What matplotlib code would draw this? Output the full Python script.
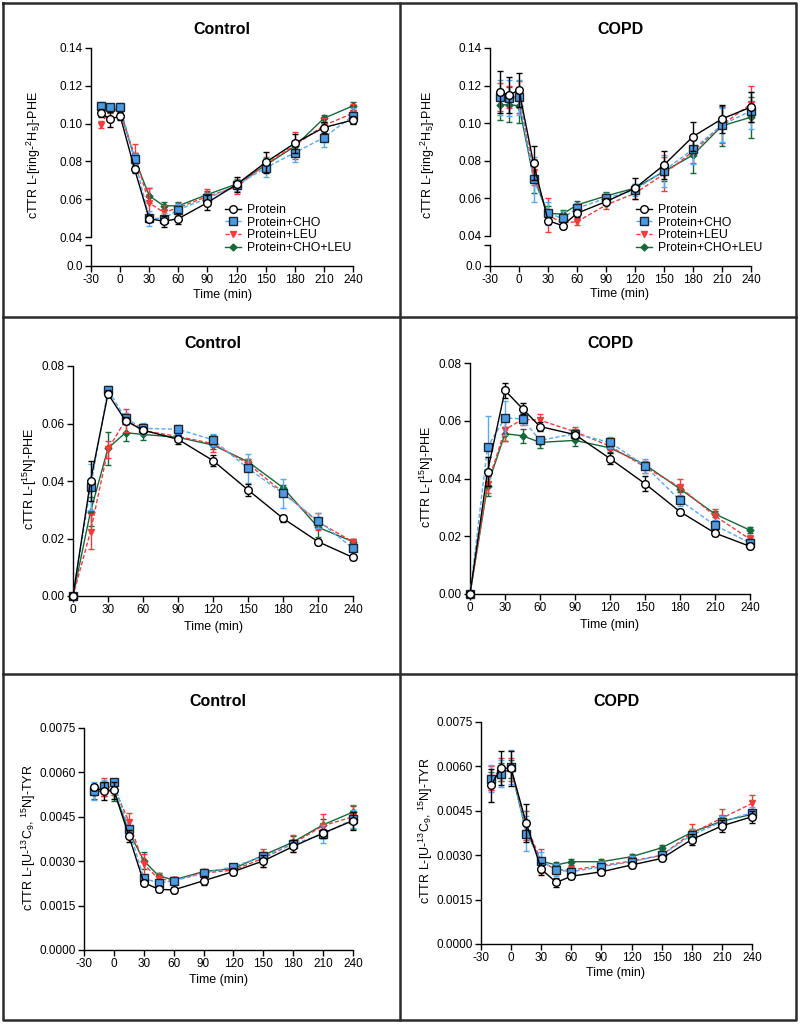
import matplotlib.pyplot as plt
from matplotlib.lines import Line2D

plt.rcParams['font.family'] = ['Liberation Sans', 'DejaVu Sans']
plt.rcParams['mathtext.fontset'] = 'custom'
plt.rcParams['mathtext.rm'] = 'Liberation Sans'
plt.rcParams['mathtext.it'] = 'Liberation Sans:italic'
plt.rcParams['mathtext.default'] = 'regular'
plt.rcParams['axes.unicode_minus'] = False

# time points (min)
time_a = [-20, -10, 0, 15, 30, 45, 60, 90, 120, 150, 180, 210, 240]
time_b = [0, 15, 30, 45, 60, 90, 120, 150, 180, 210, 240]

groups = ['Protein', 'Protein+CHO', 'Protein+LEU', 'Protein+CHO+LEU']

# --- L-[ring-2H5]-PHE, Control ---
ctrl_phe = {
    'Protein': [0.1055, 0.1023, 0.1041, 0.0758, 0.0497, 0.0483, 0.0497, 0.0582, 0.0678, 0.0795, 0.0896, 0.0979, 0.1019],
    'Protein+CHO': [0.1094, 0.1087, 0.1090, 0.0811, 0.0500, 0.0497, 0.0545, 0.0604, 0.0674, 0.0766, 0.0846, 0.0926, 0.1041],
    'Protein+LEU': [0.0995, 0.1075, 0.1065, 0.0830, 0.0580, 0.0530, 0.0555, 0.0615, 0.0665, 0.0785, 0.0885, 0.0990, 0.1055],
    'Protein+CHO+LEU': [0.1080, 0.1080, 0.1070, 0.0815, 0.0618, 0.0565, 0.0565, 0.0625, 0.0680, 0.0780, 0.0880, 0.1028, 0.1094],
}
ctrl_phe_err = {
    'Protein': [0.002, 0.004, 0.002, 0.002, 0.002, 0.003, 0.003, 0.004, 0.004, 0.0055, 0.005, 0.003, 0.002],
    'Protein+CHO': [0.002, 0.001, 0.002, 0.003, 0.004, 0.003, 0.003, 0.003, 0.003, 0.005, 0.005, 0.005, 0.004],
    'Protein+LEU': [0.002, 0.002, 0.002, 0.006, 0.008, 0.004, 0.0025, 0.004, 0.004, 0.004, 0.007, 0.004, 0.005],
    'Protein+CHO+LEU': [0.002, 0.002, 0.002, 0.003, 0.004, 0.002, 0.002, 0.002, 0.002, 0.003, 0.003, 0.002, 0.002],
}

# --- L-[ring-2H5]-PHE, COPD ---
copd_phe = {
    'Protein': [0.1166, 0.1151, 0.1176, 0.0787, 0.0482, 0.0455, 0.0521, 0.0583, 0.0654, 0.0778, 0.0929, 0.1023, 0.1086],
    'Protein+CHO': [0.1137, 0.1134, 0.1137, 0.0702, 0.0521, 0.0494, 0.0547, 0.0601, 0.0645, 0.0748, 0.0862, 0.0991, 0.1066],
    'Protein+LEU': [0.1140, 0.1140, 0.1140, 0.0740, 0.0510, 0.0470, 0.0476, 0.0565, 0.0627, 0.0730, 0.0850, 0.0990, 0.1103],
    'Protein+CHO+LEU': [0.1098, 0.1098, 0.1093, 0.0710, 0.0520, 0.0517, 0.0565, 0.0613, 0.0655, 0.0743, 0.0831, 0.0986, 0.1032],
}
copd_phe_err = {
    'Protein': [0.011, 0.0095, 0.009, 0.009, 0.002, 0.002, 0.002, 0.002, 0.0057, 0.0075, 0.0077, 0.0075, 0.008],
    'Protein+CHO': [0.0095, 0.0095, 0.0095, 0.012, 0.006, 0.004, 0.003, 0.003, 0.003, 0.0085, 0.008, 0.009, 0.0098],
    'Protein+LEU': [0.0075, 0.006, 0.0085, 0.007, 0.009, 0.002, 0.002, 0.002, 0.003, 0.009, 0.006, 0.0095, 0.0097],
    'Protein+CHO+LEU': [0.0083, 0.0093, 0.0093, 0.008, 0.004, 0.002, 0.002, 0.002, 0.002, 0.005, 0.0096, 0.0106, 0.011],
}

# --- L-[15N]-PHE, Control ---
ctrl_n15 = {
    'Protein': [0, 0.0400, 0.0703, 0.0610, 0.0577, 0.0545, 0.0471, 0.0369, 0.0270, 0.0189, 0.0134],
    'Protein+CHO': [0, 0.0378, 0.0717, 0.0618, 0.0583, 0.0580, 0.0543, 0.0444, 0.0357, 0.0262, 0.0166],
    'Protein+LEU': [0, 0.0224, 0.0510, 0.0612, 0.0575, 0.0555, 0.0530, 0.0460, 0.0360, 0.0258, 0.0188],
    'Protein+CHO+LEU': [0, 0.0293, 0.0514, 0.0568, 0.0562, 0.0552, 0.0525, 0.0467, 0.0377, 0.0239, 0.0189],
}
ctrl_n15_err = {
    'Protein': [0, 0.007, 0.0012, 0.0012, 0.001, 0.0015, 0.002, 0.002, 0.0013, 0.001, 0.0008],
    'Protein+CHO': [0, 0.008, 0.0012, 0.002, 0.002, 0.0015, 0.002, 0.005, 0.005, 0.0025, 0.0012],
    'Protein+LEU': [0, 0.0062, 0.003, 0.004, 0.001, 0.001, 0.003, 0.0015, 0.001, 0.003, 0.001],
    'Protein+CHO+LEU': [0, 0.005, 0.0058, 0.003, 0.002, 0.001, 0.0015, 0.001, 0.001, 0.0034, 0.001],
}

# --- L-[15N]-PHE, COPD ---
copd_n15 = {
    'Protein': [0, 0.0423, 0.0705, 0.0642, 0.0580, 0.0552, 0.0469, 0.0382, 0.0285, 0.0211, 0.0165],
    'Protein+CHO': [0, 0.0509, 0.0610, 0.0606, 0.0532, 0.0555, 0.0525, 0.0444, 0.0324, 0.0238, 0.0177],
    'Protein+LEU': [0, 0.0380, 0.0569, 0.0605, 0.0602, 0.0562, 0.0512, 0.0440, 0.0370, 0.0270, 0.0190],
    'Protein+CHO+LEU': [0, 0.0375, 0.0555, 0.0548, 0.0525, 0.0532, 0.0506, 0.0448, 0.0364, 0.0277, 0.0221],
}
copd_n15_err = {
    'Protein': [0, 0.005, 0.0025, 0.002, 0.0015, 0.001, 0.002, 0.0025, 0.001, 0.001, 0.001],
    'Protein+CHO': [0, 0.0106, 0.006, 0.002, 0.001, 0.001, 0.002, 0.0025, 0.002, 0.002, 0.001],
    'Protein+LEU': [0, 0.003, 0.004, 0.002, 0.002, 0.0015, 0.0015, 0.002, 0.003, 0.0025, 0.0015],
    'Protein+CHO+LEU': [0, 0.0035, 0.0025, 0.0025, 0.002, 0.002, 0.0015, 0.001, 0.001, 0.001, 0.001],
}

# --- L-[U-13C9, 15N]-TYR, Control ---
ctrl_tyr = {
    'Protein': [0.00550, 0.00536, 0.00539, 0.00386, 0.00228, 0.00205, 0.00203, 0.00234, 0.00265, 0.00301, 0.00350, 0.00395, 0.00437],
    'Protein+CHO': [0.00536, 0.00555, 0.00566, 0.00409, 0.00243, 0.00226, 0.00234, 0.00259, 0.00282, 0.00316, 0.00358, 0.00391, 0.00442],
    'Protein+LEU': [0.00535, 0.00550, 0.00550, 0.00434, 0.00290, 0.00240, 0.00235, 0.00260, 0.00270, 0.00310, 0.00360, 0.00420, 0.00450],
    'Protein+CHO+LEU': [0.00530, 0.00540, 0.00540, 0.00400, 0.00302, 0.00250, 0.00237, 0.00265, 0.00275, 0.00320, 0.00365, 0.00423, 0.00466],
}
ctrl_tyr_err = {
    'Protein': [0.0001, 0.0003, 0.0003, 0.0002, 0.0001, 0.0001, 0.0001, 0.00015, 0.00012, 0.0002, 0.0002, 0.00015, 0.0003],
    'Protein+CHO': [0.0003, 0.0002, 0.0001, 0.0001, 0.0001, 0.0001, 0.0001, 0.0001, 0.0001, 0.0001, 0.0001, 0.0003, 0.0003],
    'Protein+LEU': [0.0001, 0.0003, 0.00025, 0.0003, 0.00035, 0.0002, 0.0001, 0.00015, 0.0001, 0.0003, 0.0003, 0.0004, 0.0004],
    'Protein+CHO+LEU': [0.0002, 0.0002, 0.00035, 0.0002, 0.0003, 0.0001, 0.0001, 0.0001, 0.0001, 0.0001, 0.0002, 0.0002, 0.0002],
}

# --- L-[U-13C9, 15N]-TYR, COPD ---
copd_tyr = {
    'Protein': [0.00536, 0.00595, 0.00593, 0.00409, 0.00253, 0.00208, 0.00229, 0.00244, 0.00267, 0.00289, 0.00353, 0.00399, 0.00430],
    'Protein+CHO': [0.00559, 0.00576, 0.00598, 0.00373, 0.00280, 0.00250, 0.00244, 0.00261, 0.00278, 0.00300, 0.00368, 0.00413, 0.00444],
    'Protein+LEU': [0.00560, 0.00590, 0.00590, 0.00400, 0.00280, 0.00250, 0.00250, 0.00265, 0.00280, 0.00300, 0.00375, 0.00425, 0.00475],
    'Protein+CHO+LEU': [0.00550, 0.00580, 0.00590, 0.00380, 0.00280, 0.00267, 0.00278, 0.00278, 0.00295, 0.00325, 0.00377, 0.00415, 0.00438],
}
copd_tyr_err = {
    'Protein': [0.00056, 0.00057, 0.00058, 0.00065, 0.0002, 0.00015, 0.0001, 0.0001, 0.0001, 0.0001, 0.0002, 0.0002, 0.0002],
    'Protein+CHO': [0.00045, 0.00045, 0.00056, 0.0006, 0.0003, 0.0002, 0.0001, 0.00015, 0.0002, 0.00015, 0.0002, 0.0002, 0.0002],
    'Protein+LEU': [0.0004, 0.0004, 0.0004, 0.0005, 0.0004, 0.00015, 0.00015, 0.00015, 0.00017, 0.0001, 0.0003, 0.0003, 0.0003],
    'Protein+CHO+LEU': [0.0003, 0.0003, 0.0003, 0.0002, 0.0001, 0.0001, 0.0001, 0.0001, 0.0001, 0.0001, 0.0001, 0.0001, 0.0001],
}

xticks_a = [-30, 0, 30, 60, 90, 120, 150, 180, 210, 240]
xticks_b = [0, 30, 60, 90, 120, 150, 180, 210, 240]
phe_yticks = [0.04, 0.06, 0.08, 0.10, 0.12, 0.14]
phe_ylabels = ['0.04', '0.06', '0.08', '0.10', '0.12', '0.14']
n15_yticks = [0.0, 0.02, 0.04, 0.06, 0.08]
n15_ylabels = ['0.00', '0.02', '0.04', '0.06', '0.08']
tyr_yticks = [0.0, 0.0015, 0.003, 0.0045, 0.006, 0.0075]
tyr_ylabels = ['0.0000', '0.0015', '0.0030', '0.0045', '0.0060', '0.0075']

STYLE = {
    'Protein': dict(color='black', ls='-', marker='o', mfc='white', mec='black', ms=5.5, z=6),
    'Protein+CHO': dict(color='#5aa8f0', ls=(0, (3, 1.6)), marker='s', mfc='#4b9be3', mec='#1c2633', ms=5.5, z=5),
    'Protein+LEU': dict(color='#f23b3b', ls=(0, (3, 1.6)), marker='v', mfc='#f23b3b', mec='#f23b3b', ms=4.5, z=4),
    'Protein+CHO+LEU': dict(color='#16683a', ls='-', marker='D', mfc='#16683a', mec='#16683a', ms=3.5, z=3),
}

W, H = 800, 1024
fig = plt.figure(figsize=(W / 100, H / 100), dpi=100)


def box(x0, y0, x1, y1):
    return [x0 / W, 1 - y1 / H, (x1 - x0) / W, (y1 - y0) / H]


def style_axis(ax):
    for s in ['top', 'right']:
        ax.spines[s].set_visible(False)
    for s in ['left', 'bottom']:
        ax.spines[s].set_linewidth(1.0)
    ax.tick_params(direction='out', length=4, width=1, labelsize=8.5, pad=2)
    ax.patch.set_alpha(0)


def draw_series(ax, t, data, err):
    for g in groups:
        s = STYLE[g]
        ax.errorbar(t, data[g], yerr=err[g], color=s['color'], ls=s['ls'], lw=1.0,
                    marker=s['marker'], mfc=s['mfc'], mec=s['mec'], mew=1.0, ms=s['ms'],
                    ecolor=s['color'], elinewidth=1.0, capsize=2.5, capthick=1.0,
                    zorder=s['z'], clip_on=False)


def broken_panel(rect_top, rect_bot, data, err):
    ax = fig.add_axes(box(*rect_top))
    axb = fig.add_axes(box(*rect_bot))
    draw_series(ax, time_a, data, err)
    ax.set_xlim(-30, 240)
    ax.set_ylim(0.04, 0.14)
    ax.set_yticks(phe_yticks)
    ax.set_yticklabels(phe_ylabels)
    style_axis(ax)
    ax.spines['bottom'].set_visible(False)
    ax.tick_params(axis='x', bottom=False, labelbottom=False)
    axb.set_xlim(-30, 240)
    axb.set_ylim(0, 0.01)
    axb.set_yticks([0, 0.01])
    axb.set_yticklabels(['0.0', ''])
    axb.set_xticks(xticks_a)
    style_axis(axb)
    return ax


def simple_panel(rect, t, data, err, xlim, xticks, ylim, yticks, ylabels):
    ax = fig.add_axes(box(*rect))
    draw_series(ax, t, data, err)
    ax.set_xlim(*xlim)
    ax.set_ylim(*ylim)
    ax.set_xticks(xticks)
    ax.set_yticks(yticks)
    ax.set_yticklabels(ylabels)
    style_axis(ax)
    return ax


# panels
broken_panel((91, 48, 353, 237), (91, 245, 353, 266), ctrl_phe, ctrl_phe_err)
broken_panel((490, 48, 751, 236), (490, 245, 751, 266), copd_phe, copd_phe_err)
simple_panel((73, 366, 353, 596), time_b, ctrl_n15, ctrl_n15_err, (0, 240), xticks_b, (0, 0.08), n15_yticks, n15_ylabels)
simple_panel((470, 363, 750, 594), time_b, copd_n15, copd_n15_err, (0, 240), xticks_b, (0, 0.08), n15_yticks, n15_ylabels)
simple_panel((84, 728, 353, 950), time_a, ctrl_tyr, ctrl_tyr_err, (-30, 240), xticks_a, (0, 0.0075), tyr_yticks, tyr_ylabels)
simple_panel((481, 722, 752, 944), time_a, copd_tyr, copd_tyr_err, (-30, 240), xticks_a, (0, 0.0075), tyr_yticks, tyr_ylabels)

# titles, axis labels (pixel positions)
titles = [('Control', 222, 30), ('COPD', 620, 30), ('Control', 213, 344),
          ('COPD', 610, 344), ('Control', 218, 701), ('COPD', 616, 701)]
for txt, x, y in titles:
    fig.text(x / W, 1 - y / H, txt, ha='center', va='center', fontsize=11.5, fontweight='bold')

for x, y in [(222, 295), (620, 294), (213, 627), (610, 625), (218, 980), (616, 973)]:
    fig.text(x / W, 1 - y / H, 'Time (min)', ha='center', va='center', fontsize=9)

ylabels = [('cTTR L-[ring-$^{2}$H$_{5}$]-PHE', 34, 155), ('cTTR L-[ring-$^{2}$H$_{5}$]-PHE', 428, 155),
           ('cTTR L-[$^{15}$N]-PHE', 30, 479), ('cTTR L-[$^{15}$N]-PHE', 427, 477),
           ('cTTR L-[U-$^{13}$C$_{9}$, $^{15}$N]-TYR', 29, 838), ('cTTR L-[U-$^{13}$C$_{9}$, $^{15}$N]-TYR', 426, 831)]
for txt, x, y in ylabels:
    fig.text(x / W, 1 - y / H, txt, ha='center', va='center', rotation=90, fontsize=9)

# legends in the top row
handles = []
for g in groups:
    s = STYLE[g]
    handles.append(Line2D([], [], color=s['color'], ls=s['ls'], lw=1.0, marker=s['marker'],
                          mfc=s['mfc'], mec=s['mec'], mew=1.0, ms=s['ms']))
for x0, y0 in [(225, 204), (636, 204)]:
    fig.legend(handles, groups, loc='upper left', bbox_to_anchor=(x0 / W, 1 - y0 / H),
               frameon=False, fontsize=8.8, handlelength=1.3, handletextpad=0.5,
               labelspacing=0.05, borderpad=0, borderaxespad=0)

# panel frame lines
frame = dict(color='#2b2b2b', lw=1.8)
fig.add_artist(Line2D([3 / W, 796 / W, 796 / W, 3 / W, 3 / W],
                      [1 - 3 / H, 1 - 3 / H, 1 - 1020 / H, 1 - 1020 / H, 1 - 3 / H], **frame))
fig.add_artist(Line2D([400 / W, 400 / W], [1 - 3 / H, 1 - 1020 / H], **frame))
fig.add_artist(Line2D([3 / W, 796 / W], [1 - 317 / H, 1 - 317 / H], **frame))
fig.add_artist(Line2D([3 / W, 796 / W], [1 - 674 / H, 1 - 674 / H], **frame))

fig.savefig('out.png', dpi=100)
